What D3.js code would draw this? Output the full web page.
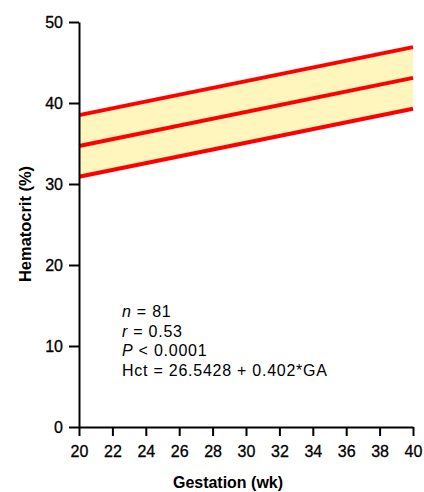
<!DOCTYPE html>
<meta charset="utf-8">
<style>
body { margin: 0; background: #fff; }
svg text { font-family: "Liberation Sans", Arial, sans-serif; fill: #000; }
.axis path, .axis line { stroke: #000; stroke-width: 2px; }
.line { fill: none; stroke: #ff0000; stroke-width: 4px; }
.band { fill: #fff6bd; }
.title { font-size: 16.5px; font-weight: bold; }
</style>
<body>
<svg width="424" height="492"></svg>
<script src="https://d3js.org/d3.v7.min.js"></script>
<script>
// regression line and band at GA = 20 and 40 wk
var weeks = [20, 40];
var upper = [38.5, 46.9];
var middle = [34.7, 43.1];
var lower = [30.9, 39.3];
var xTicks = [20, 22, 24, 26, 28, 30, 32, 34, 36, 38, 40];
var yTicks = [0, 10, 20, 30, 40, 50];

var svg = d3.select("svg"),
    margin = {top: 22, right: 11, bottom: 65, left: 79},
    width = svg.attr("width") - margin.left - margin.right,
    height = svg.attr("height") - margin.top - margin.bottom,
    g = svg.append("g").attr("transform", "translate(" + margin.left + "," + margin.top + ")");

var x = d3.scaleLinear().domain([20, 40]).range([0, width]),
    y = d3.scaleLinear().domain([0, 50]).range([height, 0]);

var pts = function(vals) {
  return weeks.map(function(w, i) { return {w: w, v: vals[i]}; });
};

var area = d3.area()
    .x(function(d, i) { return x(weeks[i]); })
    .y0(function(d, i) { return y(lower[i]); })
    .y1(function(d, i) { return y(upper[i]); });

g.append("path")
    .attr("class", "band")
    .attr("d", area(weeks));

var line = d3.line()
    .x(function(d) { return x(d.w); })
    .y(function(d) { return y(d.v); });

[upper, middle, lower].forEach(function(s) {
  g.append("path")
      .attr("class", "line")
      .attr("d", line(pts(s)));
});

g.append("g")
    .attr("class", "axis")
    .attr("transform", "translate(0," + height + ")")
    .call(d3.axisBottom(x).tickValues(xTicks).tickSize(9).tickSizeOuter(0).tickPadding(10))
  .selectAll("text").style("font-size", "16px").style("font-family", "Liberation Sans, Arial, sans-serif")
    .style("stroke", "#000").style("stroke-width", "0.3px");

g.append("g")
    .attr("class", "axis")
    .call(d3.axisLeft(y).tickValues(yTicks).tickSize(10).tickSizeOuter(0).tickPadding(6))
  .selectAll("text").style("font-size", "16px").style("font-family", "Liberation Sans, Arial, sans-serif")
    .style("stroke", "#000").style("stroke-width", "0.3px");

g.selectAll(".axis .domain").attr("stroke-width", 2.5);

svg.append("text")
    .attr("class", "title")
    .attr("x", 228)
    .attr("y", 488)
    .attr("text-anchor", "middle")
    .attr("textLength", 110)
    .attr("lengthAdjust", "spacingAndGlyphs")
    .text("Gestation (wk)");

svg.append("text")
    .attr("class", "title")
    .attr("transform", "translate(31,224) rotate(-90)")
    .attr("text-anchor", "middle")
    .attr("textLength", 116)
    .attr("lengthAdjust", "spacingAndGlyphs")
    .text("Hematocrit (%)");

var stats = [
  ["n", " = 81"],
  ["r", " = 0.53"],
  ["P", " < 0.0001"],
  ["", "Hct = 26.5428 + 0.402*GA"]
];

var txt = svg.append("g").attr("transform", "translate(122,317)");
stats.forEach(function(s, i) {
  var t = txt.append("text")
      .attr("y", i * 19.7)
      .style("font-size", "16px")
      .style("letter-spacing", "0.75px");
  if (s[0]) t.append("tspan").style("font-style", "italic").text(s[0]);
  t.append("tspan").text(s[1]);
});
</script>
</body>
